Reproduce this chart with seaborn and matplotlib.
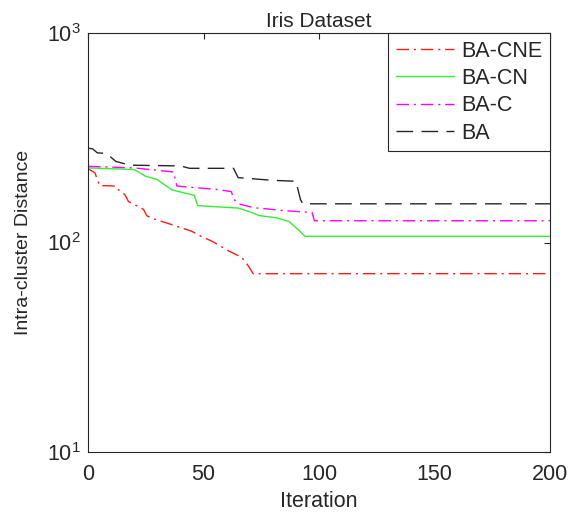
import matplotlib
matplotlib.use("Agg")
import matplotlib.pyplot as plt
import seaborn as sns
import pandas as pd
import numpy as np

# ---- data ----
cne_iter = [0, 3, 5, 12, 13, 16, 17.5, 24, 25.5, 29, 36, 45, 49, 54, 61, 66.5, 69.5, 71.5, 200]
cne_val = [225, 215, 187, 186, 179, 169, 157, 144, 134, 129, 122, 113, 107, 101, 91, 85, 77, 71, 71]

cn_iter = [0, 20, 25, 30, 33, 36.5, 46, 47.5, 65, 71, 74, 82, 87, 91, 94, 200]
cn_val = [227, 223, 207, 200, 189, 178, 168, 150, 146, 139, 134.5, 131, 126, 115, 107, 107]

c_iter = [0, 20, 37, 38.5, 56, 62, 63.5, 66, 72, 85, 97, 98, 200]
c_val = [231, 227, 217, 186, 179, 175, 159, 152, 146.5, 142, 139, 127, 127]

ba_iter = [0, 2, 4, 8, 12, 18, 40, 44, 63, 65, 80, 90, 92, 93, 200]
ba_val = [282, 280, 268, 266, 244, 234, 232, 226, 226, 204, 198, 196, 160, 153, 153]

series_names = ["BA-CNE", "BA-CN", "BA-C", "BA"]
x_ticks = [0, 50, 100, 150, 200]
y_ticks = [10, 100, 1000]

# ---- style ----
sns.set_style("white")
plt.rcParams["font.family"] = ["Liberation Sans", "DejaVu Sans"]
plt.rcParams["mathtext.fontset"] = "custom"
plt.rcParams["mathtext.rm"] = "Liberation Sans"
plt.rcParams["mathtext.it"] = "Liberation Sans"
plt.rcParams["mathtext.bf"] = "Liberation Sans"

fig = plt.figure(figsize=(5.7, 5.14), dpi=100)
fig.patch.set_facecolor("white")
ax = fig.add_axes([88 / 570, 1 - 452 / 514, (550 - 88) / 570, (452 - 33) / 514])

frames = []
for name, xs, ys in zip(series_names,
                        [cne_iter, cn_iter, c_iter, ba_iter],
                        [cne_val, cn_val, c_val, ba_val]):
    frames.append(pd.DataFrame({"Iteration": xs, "Distance": ys, "Algorithm": name}))
df = pd.concat(frames, ignore_index=True)

styles = {
    "BA-CNE": dict(color="#ff1a1a", dashes=(9, 3.5, 1.5, 3.5)),
    "BA-CN": dict(color="#33ee33", dashes=None),
    "BA-C": dict(color="#ff00ff", dashes=(9, 3.5, 1.5, 3.5)),
    "BA": dict(color="#262626", dashes=(12, 6)),
}

for name in series_names:
    sub = df[df["Algorithm"] == name]
    st = styles[name]
    sns.lineplot(data=sub, x="Iteration", y="Distance", ax=ax, color=st["color"],
                 lw=1.0, label=name, estimator=None, sort=False)
    line = ax.get_lines()[-1]
    if st["dashes"] is not None:
        line.set_dashes(st["dashes"])

ax.set_yscale("log")
ax.set_xlim(0, 200)
ax.set_ylim(10, 1000)
ax.set_xticks(x_ticks)
ax.set_yticks(y_ticks)
ax.yaxis.set_minor_locator(matplotlib.ticker.NullLocator())
ax.tick_params(axis="both", which="major", direction="in", length=4, width=0.8,
               top=True, right=True, labelsize=15.5, colors="#262626")
ax.tick_params(axis="x", pad=9)
ax.tick_params(axis="y", pad=5)
for sp in ax.spines.values():
    sp.set_visible(True)
    sp.set_color("#262626")
    sp.set_linewidth(0.8)

ax.set_xlabel("Iteration", fontsize=15.5, color="#262626", labelpad=4)
ax.set_ylabel("Intra-cluster Distance", fontsize=14, color="#262626", labelpad=11)
ax.set_title("Iris Dataset", fontsize=15, color="#262626", pad=4)

leg = ax.legend(loc="upper right", fontsize=15.5, frameon=True, fancybox=False,
                framealpha=1, edgecolor="#262626", borderaxespad=0,
                handlelength=2.7, handletextpad=0.35, labelspacing=0.3,
                borderpad=0.35)
leg.get_frame().set_linewidth(0.8)

fig.savefig("out.png", dpi=100, facecolor="white")
